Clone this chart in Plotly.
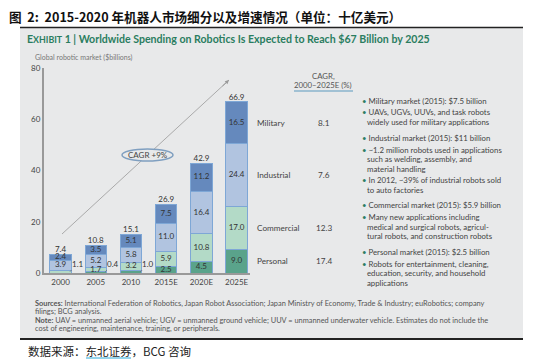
import plotly.graph_objects as go

years = ["2000", "2005", "2010", "2015E", "2020E", "2025E"]
personal = [0.0, 0.4, 1.0, 2.5, 4.5, 9.0]
commercial = [1.1, 1.7, 3.2, 5.9, 10.8, 17.0]
industrial = [3.9, 5.2, 5.8, 11.0, 16.4, 24.4]
military = [2.4, 3.5, 5.1, 7.5, 11.2, 16.5]
totals = [7.4, 10.8, 15.1, 26.9, 42.9, 66.9]
segments = ["Personal", "Commercial", "Industrial", "Military"]
cagr = {"Military": "8.1", "Industrial": "7.6", "Commercial": "12.3", "Personal": "17.4"}
y_ticks = [0, 20, 40, 60, 80]

# page is 554x359, the browser body adds an 8px margin around the figure
PAGE_W, PAGE_H, OFF = 554, 359, 8
W, H = PAGE_W - OFF, PAGE_H - OFF
L, R, T, B = 44, 250, 68, 273   # plot area in page pixels


def px(x):
    return (x - L) / (R - L)


def py(y):
    return (B - y) / (B - T)


FONT = "Lato"
colors = {"Personal": "#5aa38b", "Commercial": "#b3dac7",
          "Industrial": "#b1c4e0", "Military": "#6589bd"}
series = {"Personal": personal, "Commercial": commercial,
          "Industrial": industrial, "Military": military}

fig = go.Figure()
for name in segments:
    fig.add_trace(go.Bar(
        x=years, y=series[name], name=name,
        marker=dict(color=colors[name], line=dict(color="#7ea7d6", width=1)),
        hoverinfo="skip"))

# inside labels
lx, ly, lt = [], [], []
outside = []
for i, yr in enumerate(years):
    base = 0.0
    for name in segments:
        v = series[name][i]
        mid = base + v / 2
        if v > 1.1:
            lx.append(yr); ly.append(mid); lt.append(f"{v:.1f}")
        elif v > 0:
            outside.append((i, mid, f"{v:.1f}"))
        base += v
fig.add_trace(go.Scatter(x=lx, y=ly, text=lt, mode="text",
                         textfont=dict(family=FONT, size=8, color="#333"),
                         hoverinfo="skip"))
fig.add_trace(go.Scatter(x=years, y=totals, text=[f"{t:.1f}" for t in totals],
                         mode="text", textposition="top center",
                         textfont=dict(family=FONT, size=8, color="#333"),
                         hoverinfo="skip"))

ann = []


def text_px(x, y, text, size, color="#444", family=FONT, xanchor="left"):
    ann.append(dict(x=px(x), y=py(y), xref="paper", yref="paper", text=text,
                    showarrow=False, xanchor=xanchor, yanchor="middle",
                    font=dict(family=family, size=size, color=color)))


for i, mid, txt in outside:
    ann.append(dict(x=i + 0.27, y=max(mid, 0.5), xref="x", yref="y", text=txt,
                    showarrow=True, arrowhead=0, arrowwidth=0.8, arrowcolor="#666",
                    ax=8, ay=-8, font=dict(family=FONT, size=8, color="#333")))

# segment names and CAGR values right of the last bar
base = 0.0
for name in segments:
    v = series[name][-1]
    mid = base + v / 2
    ann.append(dict(x=px(255), y=mid, xref="paper", yref="y", text=name,
                    showarrow=False, xanchor="left", yanchor="middle",
                    font=dict(family=FONT, size=8.2, color="#444")))
    ann.append(dict(x=px(324), y=mid, xref="paper", yref="y", text=cagr[name],
                    showarrow=False, xanchor="center", yanchor="middle",
                    font=dict(family=FONT, size=8.2, color="#444")))
    base += v

text_px(323, 76, "CAGR,", 7.8, "#555", xanchor="center")
text_px(323, 85, "2000–2025E (%)", 7.8, "#555", xanchor="center")

bullets = [
    (100.5, "• Military market (2015): $7.5 billion"),
    (112, "• UAVs, UGVs, UUVs, and task robots"),
    (122, "  widely used for military applications"),
    (138, "• Industrial market (2015): $11 billion"),
    (149.5, "• ~1.2 million robots used in applications"),
    (159, "  such as welding, assembly, and"),
    (168.5, "  material handling"),
    (180, "• In 2012, ~39% of industrial robots sold"),
    (190, "  to auto factories"),
    (205, "• Commercial market (2015): $5.9 billion"),
    (217, "• Many new applications including"),
    (226.5, "  medical and surgical robots, agricul-"),
    (236, "  tural robots, and construction robots"),
    (252, "• Personal market (2015): $2.5 billion"),
    (263.5, "• Robots for entertainment, cleaning,"),
    (273, "  education, security, and household"),
    (283, "  applications"),
]
for yy, txt in bullets:
    if txt.startswith("• "):
        t = "<span style='color:#2d7d62'>•</span> " + txt[2:]
        x0 = 360
    else:
        t = txt.strip()
        x0 = 365
    text_px(x0, yy, t, 7.8, "#444")

notes = [
    (303, "<b>Sources:</b> International Federation of Robotics, Japan Robot Association; Japan Ministry of Economy, Trade & Industry; euRobotics; company"),
    (311.5, "filings; BCG analysis."),
    (320, "<b>Note:</b> UAV = unmanned aerial vehicle; UGV = unmanned ground vehicle; UUV = unmanned underwater vehicle. Estimates do not include the"),
    (328.5, "cost of engineering, maintenance, training, or peripherals."),
]
for yy, txt in notes:
    text_px(33, yy, txt, 7.4, "#555")

text_px(33, 58, "Global robotic market ($billions)", 7, "#777")
text_px(25, 39, "<b>E<span style='font-size:8.8px'>XHIBIT</span> 1 | Worldwide Spending on Robotics Is Expected to Reach $67 Billion by 2025</b>",
        10.6, "#2a7d60")
text_px(7, 16.5, "<b>图  2:  2015-2020 年机器人市场细分以及增速情况（单位：十亿美元）</b>",
        12.6, "#111", family="Noto Sans CJK SC")
text_px(26, 351, "数据来源：东北证券，BCG 咨询", 11.5, "#222", family="Noto Sans CJK SC")
text_px(148, 155, "CAGR +9%", 8, "#444", xanchor="center")

# arrowhead of the CAGR line
ann.append(dict(x=px(229), y=py(80), xref="paper", yref="paper", text="",
                showarrow=True, arrowhead=2, arrowsize=0.8, arrowwidth=1, arrowcolor="#999",
                ax=-8, ay=7.4, standoff=0))

shapes = [
    dict(type="rect", xref="paper", yref="paper", x0=px(20), x1=px(523), y0=py(28), y1=py(338),
         fillcolor="#e8e9ea", line=dict(width=0), layer="below"),
    dict(type="line", xref="paper", yref="paper", x0=px(20), x1=px(523), y0=py(27.5), y1=py(27.5),
         line=dict(color="#222", width=1.5)),
    dict(type="line", xref="paper", yref="paper", x0=px(20), x1=px(523), y0=py(339), y1=py(339),
         line=dict(color="#222", width=2)),
    dict(type="line", xref="paper", yref="paper", x0=px(62), x1=px(229), y0=py(234), y1=py(80),
         line=dict(color="#aaa", width=1)),
    dict(type="circle", xref="paper", yref="paper", x0=px(122), x1=px(173), y0=py(149), y1=py(161),
         fillcolor="#e8e9ea", line=dict(color="#7f9fc0", width=1.5)),
    dict(type="line", xref="paper", yref="paper", x0=px(294), x1=px(353), y0=py(91), y1=py(91),
         line=dict(color="#8ab3cc", width=1.5)),
    dict(type="line", xref="paper", yref="paper", x0=px(86), x1=px(131), y0=py(358), y1=py(358),
         line=dict(color="#29a9d8", width=1)),
]

fig.update_layout(
    width=W, height=H, barmode="stack", bargap=0.39, showlegend=False,
    margin=dict(l=L - OFF, r=PAGE_W - R, t=T - OFF, b=PAGE_H - B, pad=0),
    paper_bgcolor="white", plot_bgcolor="rgba(0,0,0,0)",
    annotations=ann, shapes=shapes,
    xaxis=dict(range=[-0.47, 5.38], showline=True, linecolor="#999", linewidth=2,
               tickfont=dict(family=FONT, size=8, color="#444"), ticks="",
               showgrid=False, fixedrange=True),
    yaxis=dict(range=[0, 80], tickvals=y_ticks, showline=True, linecolor="#999", linewidth=2,
               tickfont=dict(family=FONT, size=8, color="#444"), ticks="",
               showgrid=False, zeroline=False, fixedrange=True),
)
fig.write_html("out.html")
